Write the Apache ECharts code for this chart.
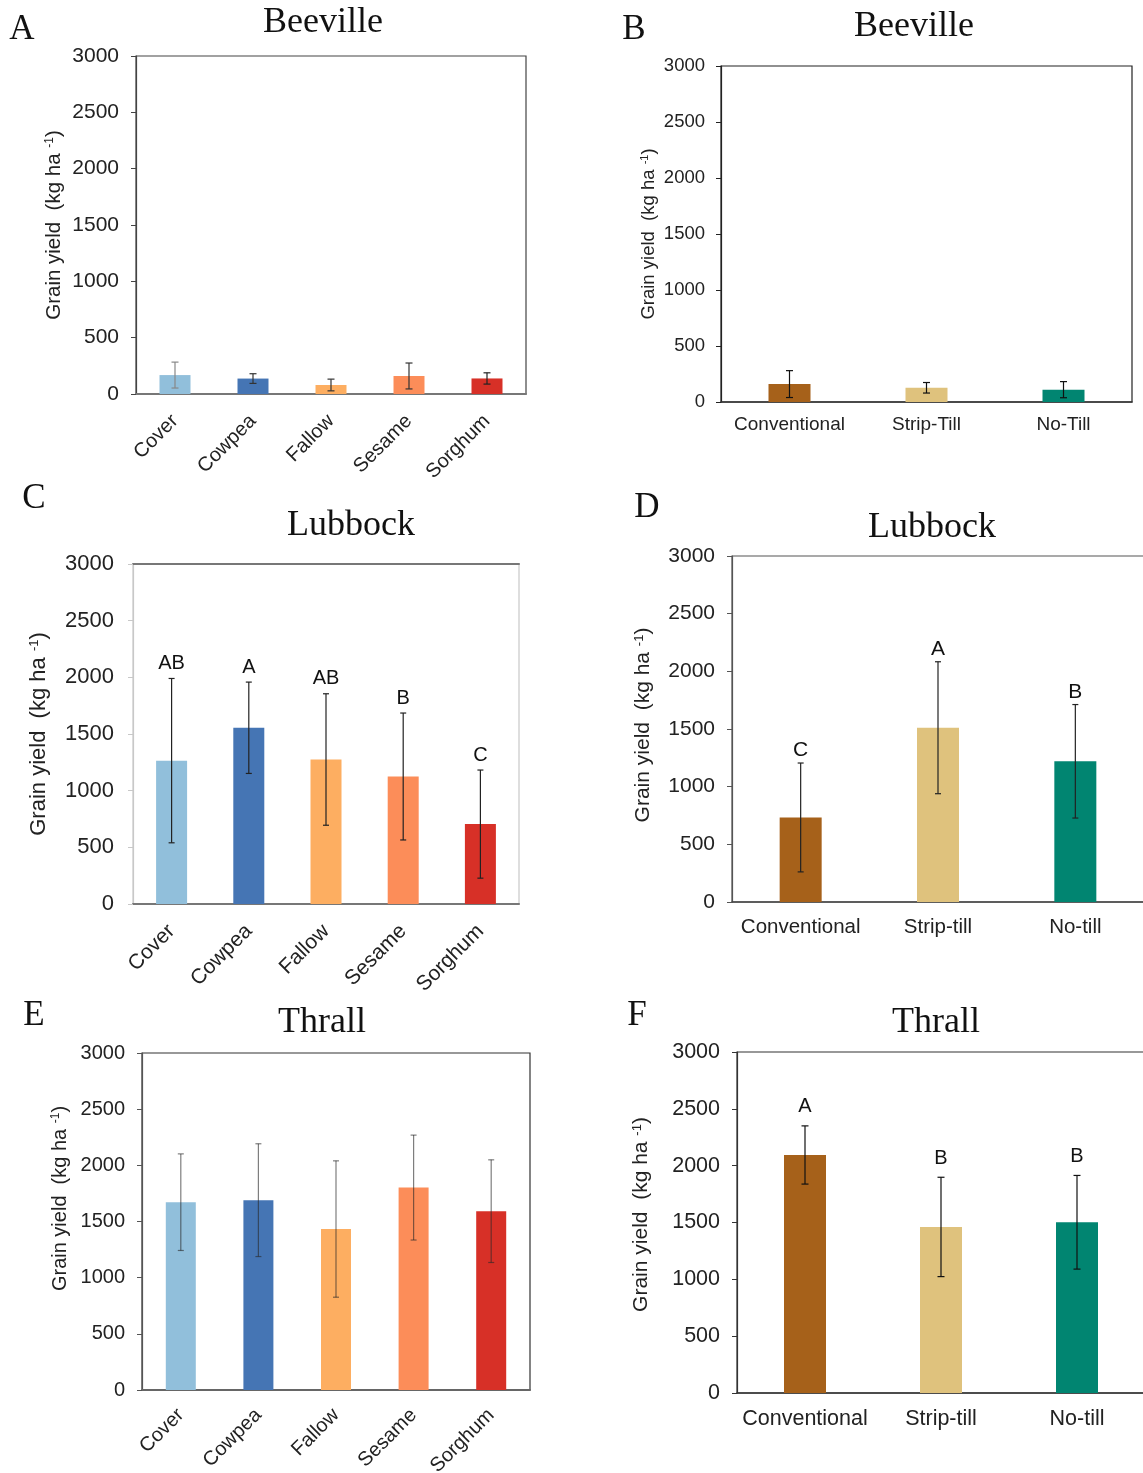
<!DOCTYPE html>
<html>
<head>
<meta charset="utf-8">
<title>Grain yield</title>
<script src="https://cdn.jsdelivr.net/npm/echarts@6/dist/echarts.min.js"></script>
<style>
html, body { margin: 0; padding: 0; background: #fff; }
#chart { width: 1143px; height: 1473px; }
</style>
</head>
<body>
<div id="chart"></div>
<script>
// categories
const cropCats = ['Cover', 'Cowpea', 'Fallow', 'Sesame', 'Sorghum'];
const tillCatsBeeville = ['Conventional', 'Strip-Till', 'No-Till'];
const tillCats = ['Conventional', 'Strip-till', 'No-till'];
const cropColors = ['#91bfdb', '#4575b4', '#fdae61', '#fc8d59', '#d73027'];
const tillColors = ['#a6611a', '#dfc27d', '#018571'];

// A - Beeville, crops
const beevilleCropMean = [168, 137, 80, 160, 138];
const beevilleCropErr = [115, 43, 52, 115, 50];
// B - Beeville, tillage
const beevilleTillMean = [160, 127, 110];
const beevilleTillErr = [120, 47, 72];
// C - Lubbock, crops
const lubbockCropMean = [1265, 1555, 1275, 1125, 705];
const lubbockCropErr = [725, 403, 580, 560, 477];
const lubbockCropLetters = ['AB', 'A', 'AB', 'B', 'C'];
// D - Lubbock, tillage
const lubbockTillMean = [733, 1511, 1220];
const lubbockTillErr = [472, 572, 492];
const lubbockTillLetters = ['C', 'A', 'B'];
// E - Thrall, crops
const thrallCropMean = [1672, 1690, 1433, 1802, 1592];
const thrallCropErr = [430, 502, 607, 467, 457];
// F - Thrall, tillage
const thrallTillMean = [2094, 1461, 1502];
const thrallTillErr = [256, 437, 412];
const thrallTillLetters = ['A', 'B', 'B'];

const SANS = 'Liberation Sans, Arial, sans-serif';
const SERIF = 'Liberation Serif, Times New Roman, serif';

// layout / style of each panel
const panels = [
  { tag: 'A', title: 'Beeville', cats: cropCats, colors: cropColors, mean: beevilleCropMean, err: beevilleCropErr, letters: null,
    grid: { left: 136, top: 56, width: 390, height: 338 }, titleXY: [323, 23], tagXY: [22, 30],
    font: 21, nameFont: 20.5, nameShift: 0, nameGap: 71, labelMargin: 17, catFont: 20, rotate: 45, catMargin: 24, barWidth: 31,
    cap: 3.5, errColor: ['#888', '#333', '#333', '#333', '#222'], border: '#444', yLine: '#444', xLine: '#777', xLineW: 2 },
  { tag: 'B', title: 'Beeville', cats: tillCatsBeeville, colors: tillColors, mean: beevilleTillMean, err: beevilleTillErr, letters: null,
    grid: { left: 721, top: 66, width: 411, height: 336 }, titleXY: [914, 27], tagXY: [634, 30],
    font: 18.5, nameFont: 18.5, nameShift: 0, nameGap: 63, labelMargin: 16, catFont: 19, rotate: 0, catMargin: 13, barWidth: 42,
    cap: 3.5, errColor: '#111', border: '#222', yLine: '#222', xLine: '#333', xLineW: 1.5 },
  { tag: 'C', title: 'Lubbock', cats: cropCats, colors: cropColors, mean: lubbockCropMean, err: lubbockCropErr, letters: lubbockCropLetters,
    grid: { left: 133, top: 564, width: 386, height: 340 }, titleXY: [351, 526], tagXY: [34, 499],
    font: 22, nameFont: 22, nameShift: 0, nameGap: 83, labelMargin: 19, catFont: 21, rotate: 45, catMargin: 24, barWidth: 31,
    cap: 3, errColor: '#222', border: '#c8c8c8', yLine: '#c8c8c8', xLine: '#777', xLineW: 2, topLine: '#777',
    letterFont: 20, letterGap: 5 },
  { tag: 'D', title: 'Lubbock', cats: tillCats, colors: tillColors, mean: lubbockTillMean, err: lubbockTillErr, letters: lubbockTillLetters,
    grid: { left: 732, top: 556, width: 412, height: 346 }, titleXY: [932, 528], tagXY: [647, 508],
    font: 21, nameFont: 21, nameShift: 4, nameGap: 78, labelMargin: 17, catFont: 20.5, rotate: 0, catMargin: 15, barWidth: 42,
    cap: 3, errColor: '#222', border: '#555', yLine: '#555', xLine: '#444', xLineW: 1.5,
    letterFont: 21, letterGap: 2 },
  { tag: 'E', title: 'Thrall', cats: cropCats, colors: cropColors, mean: thrallCropMean, err: thrallCropErr, letters: null,
    grid: { left: 142, top: 1053, width: 388, height: 337 }, titleXY: [322, 1023], tagXY: [34, 1016],
    font: 20, nameFont: 20, nameShift: 23, nameGap: 72, labelMargin: 17, catFont: 20, rotate: 45, catMargin: 22, barWidth: 30,
    cap: 3, errColor: 'rgba(40,40,40,0.6)', border: '#333', yLine: '#555', xLine: '#666', xLineW: 2 },
  { tag: 'F', title: 'Thrall', cats: tillCats, colors: tillColors, mean: thrallTillMean, err: thrallTillErr, letters: thrallTillLetters,
    grid: { left: 737, top: 1052, width: 408, height: 341 }, titleXY: [936, 1023], tagXY: [637, 1016],
    font: 21.5, nameFont: 21, nameShift: 8, nameGap: 85, labelMargin: 17, catFont: 21.5, rotate: 0, catMargin: 15, barWidth: 42,
    cap: 3.5, errColor: '#111', border: '#333', yLine: '#333', xLine: '#333', xLineW: 1.5,
    letterFont: 20, letterGap: 9 }
];

const grids = [], xAxes = [], yAxes = [], series = [], graphics = [];

panels.forEach(function (p, i) {
  grids.push(Object.assign({
    show: true, borderColor: p.border, borderWidth: 1.2, backgroundColor: 'transparent',
    containLabel: false, outerBoundsMode: 'none'
  }, p.grid));

  xAxes.push({
    gridIndex: i, type: 'category', data: p.cats,
    axisLine: { lineStyle: { color: p.xLine, width: p.xLineW } },
    axisTick: { alignWithLabel: true, length: 6, lineStyle: { color: p.xLine } },
    axisLabel: { interval: 0, rotate: p.rotate, margin: p.catMargin, color: '#222', fontSize: p.catFont, fontFamily: SANS },
    splitLine: { show: false }
  });

  yAxes.push({
    gridIndex: i, type: 'value', min: 0, max: 3000, interval: 500,
    name: 'Grain yield  (kg ha {sup|-1})', nameLocation: 'middle', nameGap: p.nameGap,
    nameTextStyle: {
      color: '#222', fontSize: p.nameFont, fontFamily: SANS,
      padding: [0, 0, 0, p.nameShift * 2],
      rich: { sup: { fontSize: Math.round(p.nameFont * 0.6), fontFamily: SANS, color: '#222', verticalAlign: 'top', lineHeight: p.nameFont } }
    },
    axisLine: { show: true, lineStyle: { color: p.yLine, width: 1.2 } },
    axisTick: { show: true, length: 5, lineStyle: { color: p.yLine } },
    axisLabel: { margin: p.labelMargin, color: '#222', fontSize: p.font, fontFamily: SANS,
                 formatter: function (v) { return String(v); } },
    splitLine: { show: false }
  });

  series.push({
    type: 'bar', xAxisIndex: i, yAxisIndex: i, barWidth: p.barWidth, silent: true,
    data: p.mean.map(function (v, k) { return { value: v, itemStyle: { color: p.colors[k] } }; })
  });

  series.push({
    type: 'custom', xAxisIndex: i, yAxisIndex: i, z: 10, silent: true,
    data: p.mean.map(function (v, k) { return [k, v + p.err[k], v - p.err[k]]; }),
    renderItem: function (params, api) {
      const hi = api.coord([api.value(0), api.value(1)]);
      const lo = api.coord([api.value(0), api.value(2)]);
      const col = Array.isArray(p.errColor) ? p.errColor[params.dataIndex] : p.errColor;
      const st = { stroke: col, lineWidth: 1.2 };
      const c = p.cap;
      const children = [
        { type: 'line', shape: { x1: hi[0], y1: hi[1], x2: lo[0], y2: lo[1] }, style: st },
        { type: 'line', shape: { x1: hi[0] - c, y1: hi[1], x2: hi[0] + c, y2: hi[1] }, style: st },
        { type: 'line', shape: { x1: lo[0] - c, y1: lo[1], x2: lo[0] + c, y2: lo[1] }, style: st }
      ];
      if (p.letters) {
        children.push({
          type: 'text', x: hi[0], y: hi[1] - p.letterGap,
          style: { text: p.letters[params.dataIndex], fill: '#111', font: p.letterFont + 'px ' + SANS,
                   textAlign: 'center', textVerticalAlign: 'bottom' }
        });
      }
      return { type: 'group', children: children };
    }
  });

  graphics.push({
    type: 'text', x: p.titleXY[0], y: p.titleXY[1],
    style: { text: p.title, fill: '#111', font: '36px ' + SERIF, textAlign: 'center', textVerticalAlign: 'middle' }
  });
  graphics.push({
    type: 'text', x: p.tagXY[0], y: p.tagXY[1],
    style: { text: p.tag, fill: '#111', font: '35px ' + SERIF, textAlign: 'center', textVerticalAlign: 'middle' }
  });
});

// extra top line for panel C (darker than its light frame)
panels.forEach(function (p, i) {
  if (!p.topLine) return;
  xAxes.push({
    gridIndex: i, type: 'category', data: p.cats, position: 'top',
    axisLine: { lineStyle: { color: p.topLine, width: 2 } },
    axisTick: { show: false }, axisLabel: { show: false }, splitLine: { show: false }
  });
});

const chart = echarts.init(document.getElementById('chart'), null, { renderer: 'canvas' });
chart.setOption({
  animation: false,
  backgroundColor: '#fff',
  grid: grids,
  xAxis: xAxes,
  yAxis: yAxes,
  series: series,
  graphic: graphics
});
</script>
</body>
</html>
